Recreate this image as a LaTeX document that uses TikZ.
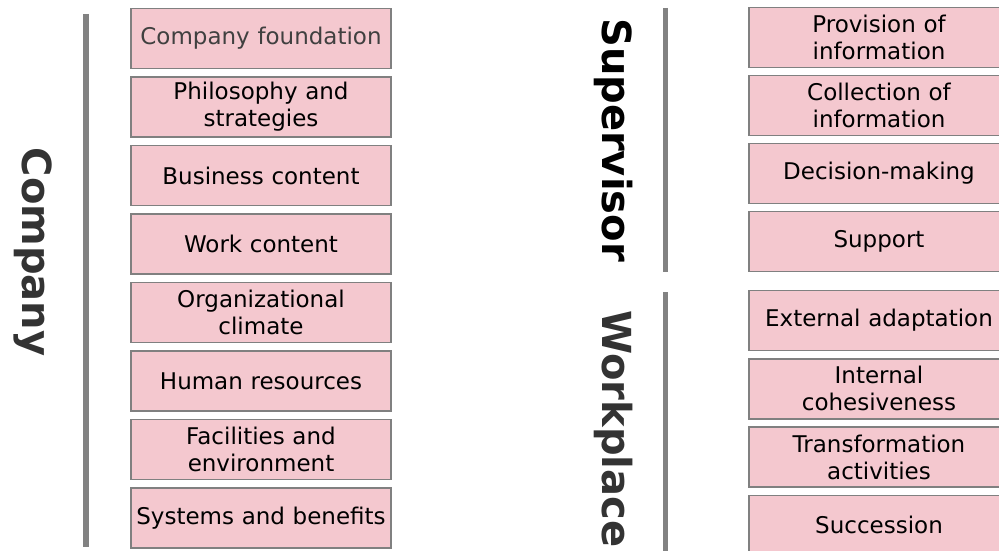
\documentclass[tikz,border=0pt]{standalone}
\usepackage{fontspec}
\setmainfont{DejaVu Sans}
\usetikzlibrary{positioning}
\definecolor{boxpink}{RGB}{244,200,207}
\definecolor{boxline}{RGB}{128,128,128}
\definecolor{barcolor}{RGB}{130,130,130}
\definecolor{labelgray}{RGB}{51,51,51}
\definecolor{softgray}{RGB}{64,64,64}

\tikzset{
  item/.style={draw=boxline, line width=1.6pt, fill=boxpink, minimum width=260pt, minimum height=60pt,
    text width=258pt, align=center, inner sep=0pt, font=\fontsize{23}{27}\selectfont},
  bar/.style={draw=barcolor, line width=5.5pt},
  group/.style={font=\fontsize{40}{40}\selectfont\bfseries, text=labelgray, rotate=-90, anchor=base}
}

\begin{document}
\begin{tikzpicture}[x=1pt,y=-1pt]
  \useasboundingbox (0,0) rectangle (999,551);
  \clip (0,0) rectangle (999,551);

  % company side
  \node[group] (company) at (22,252) {Company};
  \draw[bar] (86,14) -- (86,547);
  \foreach \txt/\ink [count=\i] in {Company foundation/softgray, {Philosophy and\\strategies}/black,
      Business content/black, Work content/black, {Organizational\\climate}/black,
      Human resources/black, {Facilities and\\environment}/black, Systems and benefits/black} {
    \node[item, text=\ink] (c\i) at (261, {38.5+68.5*(\i-1)}) {\txt};
  }

  % supervisor side
  \node[group, text=black] (supervisor) at (602,140) {Supervisor};
  \draw[bar] (665.5,8) -- (665.5,272);
  \foreach \txt [count=\i] in {{Provision of\\information}, {Collection of\\information},
      Decision-making, Support} {
    \node[item] (s\i) at (879, {37.5+68*(\i-1)}) {\txt};
  }

  % workplace side
  \node[group] (workplace) at (602,429) {Workplace};
  \draw[bar] (665.5,292) -- (665.5,560);
  \foreach \txt [count=\i] in {External adaptation, {Internal\\cohesiveness},
      {Transformation\\activities}, Succession} {
    \node[item] (w\i) at (879, {320.5+68.3*(\i-1)}) {\txt};
  }
\end{tikzpicture}
\end{document}
